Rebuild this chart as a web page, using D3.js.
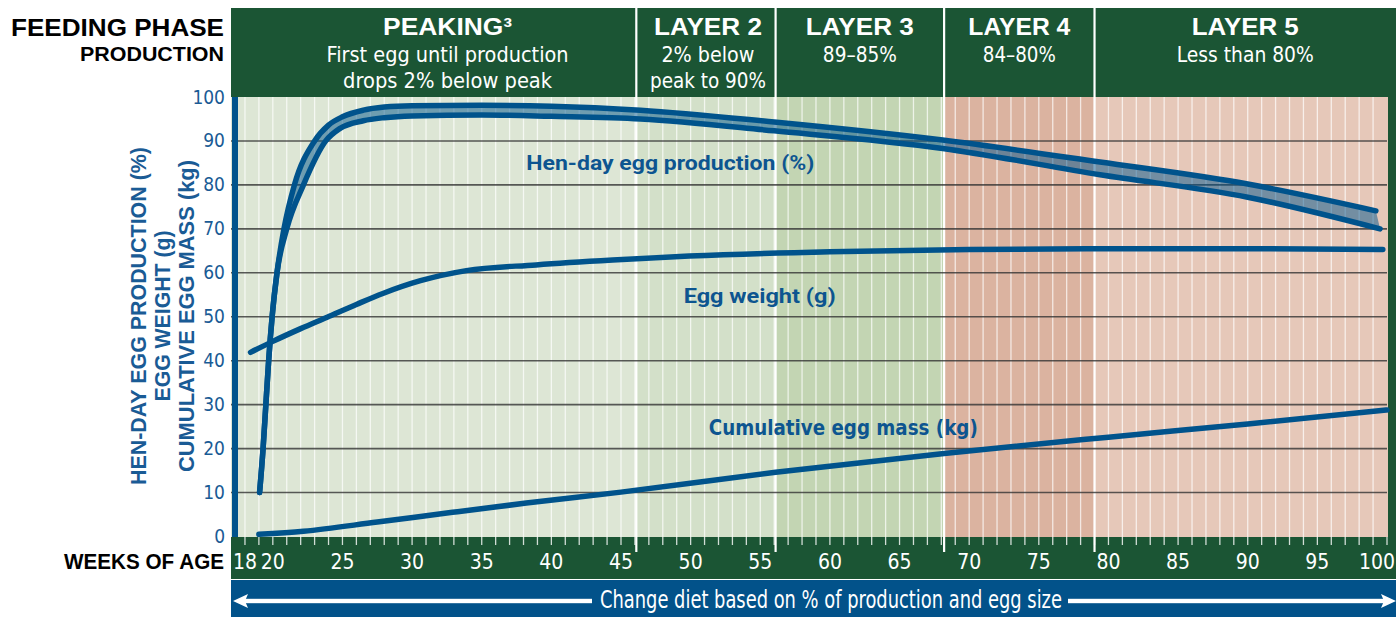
<!DOCTYPE html>
<html>
<head>
<meta charset="utf-8">
<script src="https://cdn.jsdelivr.net/npm/d3@7"></script>
<style>
  html,body{margin:0;padding:0;background:#fff;}
  svg{display:block;}
</style>
</head>
<body>
<svg id="chart" width="1396" height="617"></svg>
<script>
// ---------------- DATA ----------------
const xTickWeeks = [18,20,25,30,35,40,45,50,55,60,65,70,75,80,85,90,95,100];
const yTickValues = [0,10,20,30,40,50,60,70,80,90,100];
const gridWeeks = d3.range(18,100);

const phaseNames = ["PEAKING³","LAYER 2","LAYER 3","LAYER 4","LAYER 5"];
const phaseText  = [["First egg until production","drops 2% below peak"],["2% below","peak to 90%"],["89–85%"],["84–80%"],["Less than 80%"]];
const phaseStart = [19, 46.1, 56.1, 68.2, 79];
const phaseEnd   = [46.1, 56.1, 68.2, 79, 100];

const yTitles = ["HEN-DAY EGG PRODUCTION (%)","EGG WEIGHT (g)","CUMULATIVE EGG MASS (kg)"];
const seriesLabels = ["Hen-day egg production (%)","Egg weight (g)","Cumulative egg mass (kg)"];

// [week, value]
const henUpper = [[19.05,10],[19.3,20],[19.5,30],[19.7,40],[19.95,50],[20.3,60],[20.8,70],[21.55,80],[23.0,90],[24.0,93.6],[25,95.5],[26.5,97],[28,97.7],[30,98],[35,98.1],[40,97.9],[46.4,97],[56,94.3],[68.1,90.2],[79.4,85.2],[90,80.2],[99.2,74.1]];
const henLower = [[19.05,10],[19.3,20],[19.5,30],[19.7,40],[19.95,50],[20.3,60],[21.0,70],[22.2,80],[23.8,90],[24.8,92.8],[26.5,94.6],[28,95.3],[30,95.7],[35,95.9],[40,95.6],[46.4,95],[56,92.3],[68.1,88.3],[79.4,82.3],[90,77.2],[99.5,70]];
const eggWeight = [[18.4,41.9],[20,44.4],[22,47.3],[23.9,49.9],[26,52.8],[27.9,55.3],[30.6,58.2],[33.9,60.5],[38.9,61.8],[44.4,62.9],[49.9,63.8],[60,64.8],[70,65.3],[80,65.5],[90,65.5],[99.7,65.3]];
const cumMass = [[19,0.5],[22.2,1.2],[27.5,3.3],[32.9,5.5],[38.2,7.6],[45,10.1],[56.1,14.6],[68.2,18.9],[80,22.6],[90,25.6],[100,28.8]];

const bannerText = "Change diet based on % of production and egg size";

// ---------------- STYLE ----------------
const GREEN = "#1b5534", BLUE = "#00538c", TXTBLUE = "#1a5b95";
const phaseBg = ["#dde6d5","#d3e0c9","#c3d5b3","#dbb3a0","#e6c8b9"];
const NARROW = "'Liberation Sans Narrow','Arial Narrow','DejaVu Sans Condensed',sans-serif";
const BOLD = "'Liberation Sans',Arial,sans-serif";

const W = 1396;
const svg = d3.select("#chart");
const x = d3.scaleLinear().domain([17.5,100]).range([238,1387]);
const y = d3.scaleLinear().domain([0,100]).range([536.5,97]);
const plotTop = y(100), plotBot = 537, left = 231;

function fit(sel, w){ sel.attr("textLength", w).attr("lengthAdjust","spacingAndGlyphs"); return sel; }

// Header block
svg.append("rect").attr("x",left).attr("y",8).attr("width",W-left).attr("height",plotTop-8).attr("fill",GREEN);
// Bottom tick band
svg.append("rect").attr("x",left).attr("y",plotBot).attr("width",W-left).attr("height",42).attr("fill",GREEN);
// Banner
svg.append("rect").attr("x",left).attr("y",580).attr("width",W-left).attr("height",37).attr("fill","#02528a");
// Right strip
svg.append("rect").attr("x",x(100)+1).attr("y",plotTop).attr("width",W-x(100)-1).attr("height",plotBot-plotTop).attr("fill",GREEN);

// Phase backgrounds
phaseNames.forEach((p,i)=>{
  const x0 = i===0 ? left : x(phaseStart[i]);
  const x1 = x(phaseEnd[i]) + (i===4 ? 1 : 0);
  svg.append("rect").attr("x",x0).attr("y",plotTop).attr("width",x1-x0).attr("height",plotBot-plotTop).attr("fill",phaseBg[i]);
});

// Week grid lines
svg.append("g").selectAll("line").data(gridWeeks).join("line")
  .attr("x1",d=>x(d)).attr("x2",d=>x(d)).attr("y1",plotTop).attr("y2",plotBot)
  .attr("stroke","#fff").attr("stroke-opacity",0.7).attr("stroke-width",1.3);

// Ticks in the bottom band
svg.append("g").selectAll("line").data(d3.range(18,101)).join("line")
  .attr("x1",d=>x(d)).attr("x2",d=>x(d)).attr("y1",plotBot).attr("y2",plotBot+8)
  .attr("stroke","#fff").attr("stroke-opacity",0.8).attr("stroke-width",1.3);

// Phase boundary lines
const bounds = phaseStart.slice(1);
svg.append("g").selectAll("line").data(bounds).join("line")
  .attr("x1",d=>x(d)).attr("x2",d=>x(d)).attr("y1",8).attr("y2",plotBot+15)
  .attr("stroke","#fff").attr("stroke-width",2.2);

// Horizontal gridlines
svg.append("g").selectAll("line").data(yTickValues.filter(v=>v>0 && v<100)).join("line")
  .attr("x1",left).attr("x2",x(100)).attr("y1",d=>y(d)).attr("y2",d=>y(d))
  .attr("stroke","#333").attr("stroke-opacity",0.8).attr("stroke-width",1.6);

// Left blue axis line
svg.append("rect").attr("x",232).attr("y",plotTop).attr("width",6).attr("height",plotBot-plotTop).attr("fill",BLUE);

// Curves
const lineGen = d3.line().x(d=>x(d[0])).y(d=>y(d[1])).curve(d3.curveMonotoneX);
const bandG = svg.append("g");
const paths = [henUpper, henLower, eggWeight, cumMass].map(s=>
  svg.append("path").attr("d",lineGen(s)).attr("fill","none").attr("stroke",BLUE)
    .attr("stroke-width",5.5).attr("stroke-linecap","round").attr("stroke-linejoin","round")
);

// Band fill between the two hen-day curves (sampled from the drawn curves)
function sample(pathSel, n){
  const node = pathSel.node(), L = node.getTotalLength(), pts = [];
  for(let i=0;i<=n;i++){ const p = node.getPointAtLength(L*i/n); pts.push([p.x,p.y]); }
  return pts;
}
const up = sample(paths[0], 600), lo = sample(paths[1], 600);
const poly = up.concat(lo.reverse());
bandG.append("path").attr("d","M"+poly.map(p=>p[0].toFixed(2)+","+p[1].toFixed(2)).join("L")+"Z")
  .attr("fill",BLUE).attr("fill-opacity",0.5);

// Header texts
const titleW = [129,108,108,102,107];
const subW = [[242,209],[93,116],[74],[73],[137]];
phaseNames.forEach((p,i)=>{
  const x0 = x(phaseStart[i]);
  const x1 = i===4 ? W : x(phaseEnd[i]);
  const cx = (x0+x1)/2 + (i===1 ? 2 : 0);
  fit(svg.append("text").attr("x",cx).attr("y",35).attr("text-anchor","middle")
    .attr("fill","#fff").attr("font-family",BOLD).attr("font-weight",700).attr("font-size",24).text(p), titleW[i]);
  phaseText[i].forEach((t,j)=>{
    fit(svg.append("text").attr("x",cx).attr("y",61.5+j*26).attr("text-anchor","middle")
      .attr("fill","#fff").attr("font-family",NARROW).attr("font-size",22).text(t), subW[i][j]);
  });
});

// Left labels
fit(svg.append("text").attr("x",224).attr("y",35.5).attr("text-anchor","end").attr("fill","#000")
  .attr("font-family",BOLD).attr("font-weight",700).attr("font-size",24).text("FEEDING PHASE"),213);
fit(svg.append("text").attr("x",224).attr("y",61).attr("text-anchor","end").attr("fill","#000")
  .attr("font-family",BOLD).attr("font-weight",700).attr("font-size",21).text("PRODUCTION"),144);
fit(svg.append("text").attr("x",224).attr("y",569).attr("text-anchor","end").attr("fill","#000")
  .attr("font-family",BOLD).attr("font-weight",700).attr("font-size",21.5).text("WEEKS OF AGE"),160);

// Y tick labels
svg.append("g").selectAll("text").data(yTickValues).join("text")
  .attr("x",225).attr("y",d=>y(d)+6.5).attr("text-anchor","end")
  .attr("fill",TXTBLUE).attr("font-family",NARROW).attr("font-size",19).text(d=>d);

// X tick labels
svg.append("g").selectAll("text").data(xTickWeeks).join("text")
  .attr("x",d=> d===100 ? W-1 : x(d)).attr("y",569).attr("text-anchor",d=> d===100 ? "end":"middle")
  .attr("fill","#fff").attr("font-family",NARROW).attr("font-size",21).text(d=>d);

// Y titles (rotated)
const yTitleBase = [146,170,194], yTitleLen = [338,171,312];
yTitles.forEach((t,i)=>{
  fit(svg.append("text").attr("transform",`translate(${yTitleBase[i]},316) rotate(-90)`)
    .attr("text-anchor","middle").attr("fill",TXTBLUE).attr("font-family",BOLD).attr("font-weight",700)
    .attr("font-size",22).text(t), yTitleLen[i]);
});

// Series labels
fit(svg.append("text").attr("x",x(38.2)).attr("y",y(83.5)).attr("fill","#0d5590")
  .attr("font-family","Roboto,'Liberation Sans',sans-serif").attr("font-weight",700).attr("font-size",21).text(seriesLabels[0]),288);
fit(svg.append("text").attr("x",x(49.5)).attr("y",y(53.2)).attr("fill","#0d5590")
  .attr("font-family","Roboto,'Liberation Sans',sans-serif").attr("font-weight",700).attr("font-size",21).text(seriesLabels[1]),152);
fit(svg.append("text").attr("x",x(51.3)).attr("y",y(23.1)).attr("fill","#0d5590")
  .attr("font-family",NARROW).attr("font-weight",700).attr("font-size",21).text(seriesLabels[2]),269);

// Banner text and arrows
fit(svg.append("text").attr("x",831).attr("y",608).attr("text-anchor","middle").attr("fill","#fff")
  .attr("font-family",NARROW).attr("font-size",24).text(bannerText),462);
const ay = 601;
svg.append("rect").attr("x",242).attr("y",ay-2.2).attr("width",592-242).attr("height",4.4).attr("fill","#fff");
svg.append("path").attr("d",`M${233},${ay} L${248},${ay-7} L${245},${ay} L${248},${ay+7} Z`).attr("fill","#fff");
svg.append("rect").attr("x",1068).attr("y",ay-2.2).attr("width",1386-1068).attr("height",4.4).attr("fill","#fff");
svg.append("path").attr("d",`M${1396},${ay} L${1381},${ay-7} L${1384},${ay} L${1381},${ay+7} Z`).attr("fill","#fff");
</script>
</body>
</html>
